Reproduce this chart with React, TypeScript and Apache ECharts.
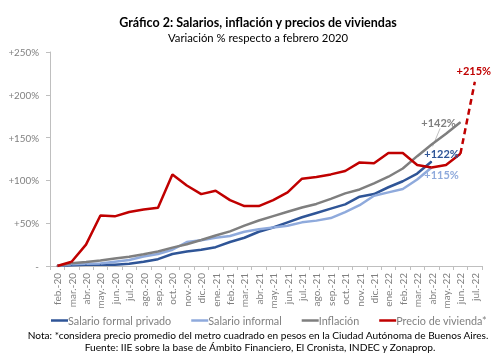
import React, { useEffect, useRef } from "react";
import * as echarts from "echarts";

const categories = [
  "feb.-20", "mar.-20", "abr.-20", "may.-20", "jun.-20", "jul.-20", "ago.-20", "sep.-20", "oct.-20", "nov.-20", "dic.-20",
  "ene.-21", "feb.-21", "mar.-21", "abr.-21", "may.-21", "jun.-21", "jul.-21", "ago.-21", "sep.-21", "oct.-21", "nov.-21", "dic.-21",
  "ene.-22", "feb.-22", "mar.-22", "abr.-22", "may.-22", "jun.-22", "jul.-22",
];

const salarioFormal = [0, 1, 1.5, 1.5, 1.5, 2.5, 5, 8, 14, 17, 19, 22, 28, 33, 40, 45, 51, 57, 62, 67, 72, 81, 84, 92, 99, 108, 122, null, null, null];
const salarioInformal = [0, 2, 2.5, 3, 5, 7, 11, 14, 19, 28, 30, 33, 35, 40, 43, 45, 47, 51, 53, 56, 63, 71, 82, 86, 90, 101, 115, null, null, null];
const inflacion = [0, 3.3, 4.8, 6.4, 8.7, 10.8, 13.8, 17, 21.5, 25.4, 30.4, 35.6, 40.5, 47.2, 53.2, 58.3, 63.4, 68.3, 72.5, 78.5, 84.8, 89.4, 96.6, 104.3, 113.9, 128.3, 142, 154.4, 167.9, null];
const precioVivienda = [0, 5, 25, 59, 58, 63, 66, 68, 107, 94, 84, 88, 77, 70, 70, 77, 86, 102, 104, 107, 111, 121, 120, 132, 132, 118, 115, 118, 131, null];
const precioViviendaProy = [null, null, null, null, null, null, null, null, null, null, null, null, null, null, null, null, null, null, null, null, null, null, null, null, null, null, null, null, 131, 215];

const yTicks = [0, 50, 100, 150, 200, 250];
const seriesNames = ["Salario formal privado", "Salario informal", "Inflación", "Precio de vivienda*"];
const endLabels = ["+122%", "+115%", "+142%", "+215%"];

const FONT = "Lato, 'Liberation Sans', sans-serif";
const C_FORMAL = "#2F5597";
const C_INFORMAL = "#8FAADC";
const C_INFL = "#7F7F7F";
const C_RED = "#C00000";

function labeled(arr: (number | null)[], idx: number, label: any) {
  return arr.map((v, i) => (i === idx ? { value: v, label: { show: true, ...label } } : v));
}

export default function App() {
  const ref = useRef<HTMLDivElement>(null);
  useEffect(() => {
    if (!ref.current) return;
    const chart = echarts.init(ref.current, null, { renderer: "svg" });
    const lblFont = { fontFamily: FONT, fontWeight: "bold", fontSize: 11 };
    const iAbr22 = categories.indexOf("abr.-22");
    const iJul22 = categories.indexOf("jul.-22");
    const common = {
      type: "line",
      showSymbol: true,
      symbol: "circle",
      symbolSize: 1,
      connectNulls: false,
      label: { show: false },
      emphasis: { disabled: true },
    };
    const option: any = {
      animation: false,
      grid: { left: 50, right: 21, top: 52, bottom: 97, containLabel: false },
      xAxis: {
        type: "category",
        data: categories,
        boundaryGap: true,
        axisLine: { lineStyle: { color: "#BFBFBF", width: 1 } },
        axisTick: { show: true, length: 4, lineStyle: { color: "#BFBFBF" } },
        axisLabel: { rotate: 90, interval: 0, margin: 7, color: "#808080", fontFamily: FONT, fontSize: 10 },
        splitLine: { show: false },
      },
      yAxis: {
        type: "value",
        min: yTicks[0],
        max: yTicks[yTicks.length - 1],
        interval: 50,
        axisLine: { show: true, lineStyle: { color: "#BFBFBF", width: 1 } },
        axisTick: { show: true, length: 4, lineStyle: { color: "#BFBFBF" } },
        axisLabel: {
          margin: 11,
          color: "#808080",
          fontFamily: FONT,
          fontSize: 9.8,
          formatter: (v: number) => (v === 0 ? "-" : "+" + v + "%"),
        },
        splitLine: { show: false },
      },
      legend: {
        data: seriesNames,
        left: 46,
        top: 310,
        icon: "rect",
        itemWidth: 17,
        itemHeight: 2.5,
        itemGap: 20,
        textStyle: { color: "#808080", fontFamily: FONT, fontSize: 10.8, padding: [0, 0, 0, -5] },
      },
      series: [
        {
          ...common,
          name: seriesNames[0],
          data: labeled(salarioFormal, iAbr22, { formatter: endLabels[0], position: "top", offset: [10, 3], color: C_FORMAL, ...lblFont }),
          lineStyle: { color: C_FORMAL, width: 2.5 },
          itemStyle: { color: C_FORMAL },
        },
        {
          ...common,
          name: seriesNames[1],
          data: labeled(salarioInformal, iAbr22, { formatter: endLabels[1], position: "bottom", offset: [10, -4], color: C_INFORMAL, ...lblFont }),
          lineStyle: { color: C_INFORMAL, width: 2.5 },
          itemStyle: { color: C_INFORMAL },
        },
        {
          ...common,
          name: seriesNames[2],
          data: labeled(inflacion, iAbr22, { formatter: endLabels[2], position: "top", offset: [7, -10.5], color: C_INFL, ...lblFont }),
          lineStyle: { color: C_INFL, width: 2.5 },
          itemStyle: { color: C_INFL },
        },
        {
          ...common,
          name: seriesNames[3],
          data: precioVivienda,
          lineStyle: { color: C_RED, width: 2.5 },
          itemStyle: { color: C_RED },
        },
        {
          ...common,
          name: "proy",
          data: labeled(precioViviendaProy, iJul22, { formatter: endLabels[3], position: "top", offset: [-1, 0], color: C_RED, ...lblFont }),
          lineStyle: { color: C_RED, width: 2.5, type: [6, 4] },
          itemStyle: { color: C_RED },
        },
      ],
      graphic: [
        {
          id: "title",
          type: "text",
          x: 258,
          y: 22,
          style: { text: "Gráfico 2: Salarios, inflación y precios de viviendas", fill: "#000", fontFamily: FONT, fontWeight: "bold", fontSize: 12.5, align: "center", verticalAlign: "middle", textAlign: "center", textVerticalAlign: "middle" },
        },
        {
          id: "subtitle",
          type: "text",
          x: 258,
          y: 37,
          style: { text: "Variación % respecto a febrero 2020", fill: "#000", fontFamily: FONT, fontSize: 11.3, align: "center", verticalAlign: "middle", textAlign: "center", textVerticalAlign: "middle" },
        },
        {
          id: "nota",
          type: "text",
          x: 258,
          y: 335,
          style: { text: "Nota: *considera precio promedio del metro cuadrado en pesos en la Ciudad Autónoma de Buenos Aires.", fill: "#000", fontFamily: FONT, fontSize: 10.1, align: "center", verticalAlign: "middle", textAlign: "center", textVerticalAlign: "middle" },
        },
        {
          id: "fuente",
          type: "text",
          x: 260,
          y: 347,
          style: { text: "Fuente: IIE sobre la base de Ámbito Financiero, El Cronista, INDEC y Zonaprop.", fill: "#000", fontFamily: FONT, fontSize: 10.2, align: "center", verticalAlign: "middle", textAlign: "center", textVerticalAlign: "middle" },
        },
      ],
    };
    chart.setOption(option);
    const p = chart.convertToPixel({ xAxisIndex: 0, yAxisIndex: 0 }, [categories[iAbr22], inflacion[iAbr22] as number]) as number[];
    if (p) {
      chart.setOption({
        graphic: [
          {
            id: "leader",
            type: "line",
            shape: { x1: p[0] + 1, y1: p[1] + 2, x2: p[0] + 8.5, y2: p[1] - 16 },
            style: { stroke: "#BFBFBF", lineWidth: 1 },
          },
        ],
      });
    }
    return () => chart.dispose();
  }, []);
  return <div ref={ref} style={{ position: "fixed", left: 0, top: 0, width: 503, height: 363 }} />;
}
